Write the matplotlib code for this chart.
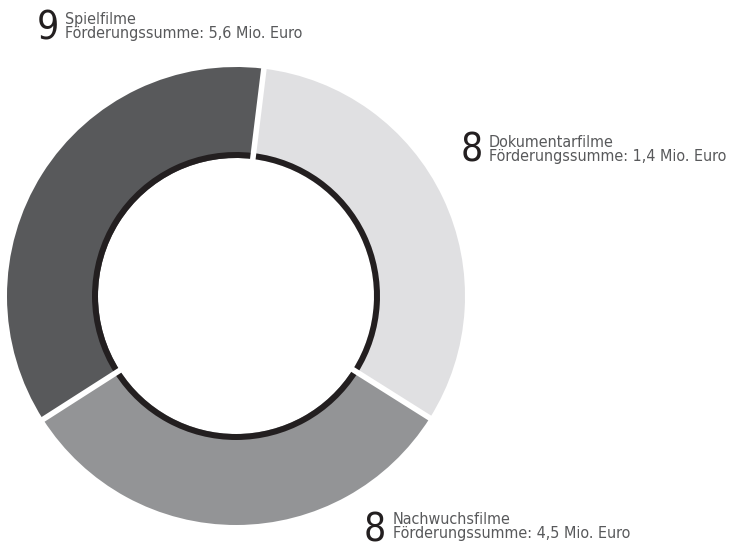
import numpy as np
import matplotlib
matplotlib.use("Agg")
from matplotlib import pyplot as plt
from matplotlib import font_manager

# Filmfoerderung: Anzahl Filme je Kategorie
categories = ["Dokumentarfilme", "Nachwuchsfilme", "Spielfilme"]
counts = [8, 8, 9]
amounts = ["1,4", "4,5", "5,6"]
colors = ["#e0e0e2", "#939496", "#58595b"]

# look for a condensed face, otherwise take a plain sans
font = None
for f in font_manager.fontManager.ttflist:
    key = (f.name + " " + f.fname).lower()
    if ("condensed" in key or "narrow" in key) and f.style == "normal" and f.weight in (400, "normal", "regular"):
        font = f.name
        stretch = f.stretch
        break
if font is None:
    font, stretch = "Roboto", "normal"
plt.rcParams['font.family'] = [font, 'DejaVu Sans']

fig = plt.figure(figsize=(7.34, 5.51), dpi=100)
ax = fig.add_axes([0, 0, 1, 1])

cx, cy = 236, 551 - 296
start = 83
total = sum(counts)

# grey ring
ax.pie(counts, colors=colors, radius=229, center=(cx, cy), startangle=start,
       counterclock=False, frame=True, wedgeprops=dict(width=229 - 138, linewidth=0))
# black inner ring
ax.pie(counts, colors=['#231f20'] * 3, radius=144, center=(cx, cy), startangle=start,
       counterclock=False, frame=True, wedgeprops=dict(width=6, linewidth=0))
# white gaps between segments
for c in np.cumsum([0] + counts[:-1]):
    a = np.deg2rad(start - 360.0 * c / total)
    ax.plot([cx + 130 * np.cos(a), cx + 235 * np.cos(a)],
            [cy + 130 * np.sin(a), cy + 235 * np.sin(a)], color='white', lw=4, solid_capstyle='butt')

ax.set_xlim(0, 734)
ax.set_ylim(0, 551)
ax.set_aspect('equal')
ax.axis('off')

# (digit x, digit baseline, text x, 2nd line baseline) in pixels from top-left
label_pos = {"Spielfilme": (37, 40, 65, 38),
             "Dokumentarfilme": (461, 162, 489, 161),
             "Nachwuchsfilme": (364, 541, 393, 538)}

renderer = fig.canvas.get_renderer()
for cat, n, amt in zip(categories, counts, amounts):
    dx, dy, tx, ty = label_pos[cat]
    ax.text(dx, 551 - dy, str(n), fontsize=28, color='#231f20', ha='left', va='baseline',
            fontstretch=stretch, fontweight='medium')
    t1 = ax.text(tx, 551 - ty + 14, cat, fontsize=13, color='#58595b', ha='left',
                 va='baseline', fontstretch=stretch)
    t2 = ax.text(tx, 551 - ty, "Förderungssumme: " + amt + " Mio. Euro", fontsize=13,
                 color='#58595b', ha='left', va='baseline', fontstretch=stretch)
    # fit width of the second line to the reference (~238 px)
    w = t2.get_window_extent(renderer).width
    s = 13 * 238.0 / w
    t1.set_fontsize(s)
    t2.set_fontsize(s)

fig.savefig("out.png", dpi=100, facecolor='white')
